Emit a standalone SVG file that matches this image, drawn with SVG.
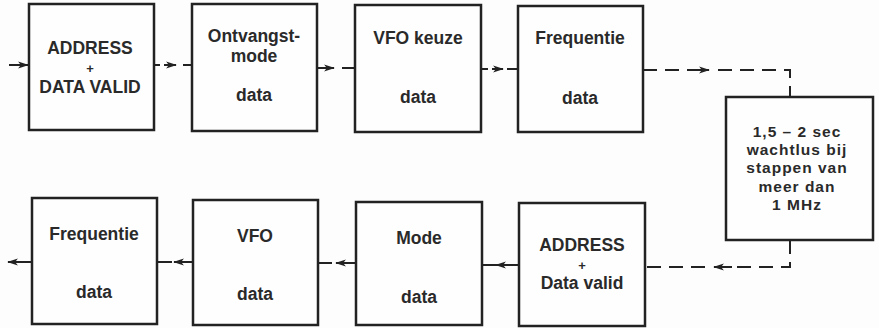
<svg xmlns="http://www.w3.org/2000/svg" width="879" height="328" viewBox="0 0 879 328">
<defs>
<marker id="ah" viewBox="0 0 12 10" refX="11" refY="5" markerWidth="12" markerHeight="9" markerUnits="userSpaceOnUse" orient="auto">
<path d="M0,1 L12,5 L0,9 L3,5 Z" fill="#222"/>
</marker>
</defs>
<style>
.box{fill:#fefefe;stroke:#222;stroke-width:2.5}
.t{font-family:"Liberation Sans",Arial,sans-serif;font-weight:bold;font-size:17.5px;fill:#2a2a2a;text-anchor:middle}
.p{font-size:13px}
.s{font-size:15.5px;letter-spacing:1px}
.c{fill:none;stroke:#222;stroke-width:2}
.d{stroke-dasharray:14 8}
</style>
<rect width="879" height="328" fill="#fdfdfd"/>
<g id="connectors">
<path class="c" d="M9,65 H28" marker-end="url(#ah)"/>
<path class="c" d="M154,65 H160"/>
<path class="c" d="M164,65 H176" marker-end="url(#ah)"/>
<path class="c" d="M183,65 H191"/>
<path class="c" d="M317,68 H334" marker-end="url(#ah)"/>
<path class="c" d="M342,68 H355"/>
<path class="c" d="M481,69 H488"/>
<path class="c" d="M492,69 H503" marker-end="url(#ah)"/>
<path class="c" d="M507,69 H518"/>
<path class="c d" d="M643,70 H700"/>
<path class="c" d="M690,70 H709" marker-end="url(#ah)"/>
<path class="c d" d="M718,70 H790 V97"/>
<path class="c d" d="M790,240 V267 H728"/>
<path class="c" d="M732,267 H714" marker-end="url(#ah)"/>
<path class="c d" d="M705,267 H645"/>
<path class="c" d="M519,265 H505"/>
<path class="c" d="M505,265 H496" marker-end="url(#ah)"/>
<path class="c" d="M496,265 H482"/>
<path class="c" d="M356,263 H336" marker-end="url(#ah)"/>
<path class="c" d="M332,263 H318"/>
<path class="c" d="M193,262 H174" marker-end="url(#ah)"/>
<path class="c" d="M172,262 H157"/>
<path class="c" d="M32,262 H8" marker-end="url(#ah)"/>
</g>
<g id="n1"><rect class="box" x="29" y="4" width="125" height="126"/>
<text class="t" x="90" y="54">ADDRESS</text><text class="t p" x="90" y="73">+</text><text class="t" x="90" y="93">DATA VALID</text></g>
<g id="n2"><rect class="box" x="192" y="4" width="125" height="127"/>
<text class="t" x="254" y="42">Ontvangst-</text><text class="t" x="254" y="62">mode</text><text class="t" x="254" y="101">data</text></g>
<g id="n3"><rect class="box" x="355" y="5" width="126" height="127"/>
<text class="t" x="418" y="44">VFO keuze</text><text class="t" x="418" y="103">data</text></g>
<g id="n4"><rect class="box" x="518" y="6" width="125" height="126"/>
<text class="t" x="580" y="44">Frequentie</text><text class="t" x="580" y="104">data</text></g>
<g id="n5"><rect class="box" x="726" y="97" width="147" height="143"/>
<text class="t s" x="797" y="137">1,5 – 2 sec</text><text class="t s" x="797" y="155">wachtlus bij</text><text class="t s" x="797" y="173">stappen van</text><text class="t s" x="797" y="192">meer dan</text><text class="t s" x="797" y="210">1 MHz</text></g>
<g id="n6"><rect class="box" x="519" y="203" width="126" height="123"/>
<text class="t" x="582" y="251">ADDRESS</text><text class="t p" x="582" y="270">+</text><text class="t" x="582" y="289">Data valid</text></g>
<g id="n7"><rect class="box" x="356" y="202" width="126" height="123"/>
<text class="t" x="419" y="244">Mode</text><text class="t" x="419" y="303">data</text></g>
<g id="n8"><rect class="box" x="193" y="200" width="125" height="125"/>
<text class="t" x="255" y="242">VFO</text><text class="t" x="255" y="300">data</text></g>
<g id="n9"><rect class="box" x="32" y="198" width="125" height="126"/>
<text class="t" x="94" y="240">Frequentie</text><text class="t" x="94" y="298">data</text></g>
</svg>
